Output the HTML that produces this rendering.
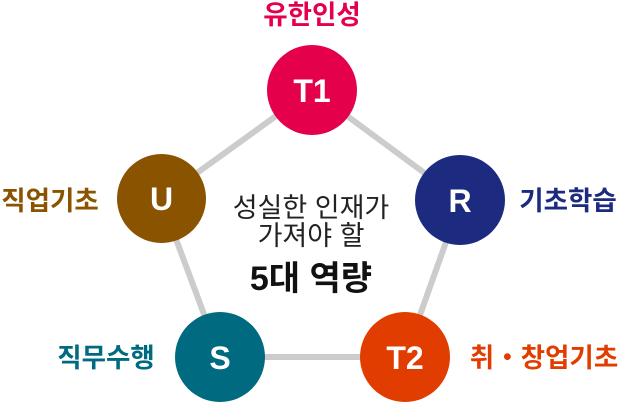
<!DOCTYPE html>
<html><head><meta charset="utf-8"><style>
body{margin:0;background:#fff;width:621px;height:403px;overflow:hidden}
svg text{font-family:"Liberation Sans","Noto Sans CJK KR",sans-serif}
</style></head><body>
<svg width="621" height="403" viewBox="0 0 621 403">
<polygon points="312,90 461,200 405,357 220,357 161,199" fill="none" stroke="#cccccc" stroke-width="6"/>
<circle cx="312" cy="90" r="45" fill="#e5004b"/>
<circle cx="161.5" cy="198.5" r="44.5" fill="#8a5300"/>
<circle cx="460" cy="200" r="45" fill="#1c2b80"/>
<circle cx="220" cy="357" r="45" fill="#006a80"/>
<circle cx="405" cy="357" r="45" fill="#e23d00"/>
<g fill="#fff" font-weight="bold" font-size="32" text-anchor="middle">
<text x="312" y="102">T1</text>
<text x="161.5" y="210">U</text>
<text x="460" y="212">R</text>
<text x="220" y="369">S</text>
<text x="405" y="369">T2</text>
</g>
<g font-weight="bold" font-size="26.5" text-anchor="middle">
<text x="312" y="24" fill="#e5004b">유한인성</text>
<text x="50" y="210" fill="#8a5300">직업기초</text>
<text x="568" y="210" fill="#1c2b80">기초학습</text>
<text x="106" y="367" fill="#006a80">직무수행</text>
<text x="544" y="367" fill="#e23d00">취・창업기초</text>
</g>
<g text-anchor="middle" fill="#222">
<text x="311" y="217" font-size="27">성실한 인재가</text>
<text x="311" y="245" font-size="27">가져야 할</text>
<text x="311" y="290" font-size="34" font-weight="bold" fill="#111">5대 역량</text>
</g>
</svg>
</body></html>
